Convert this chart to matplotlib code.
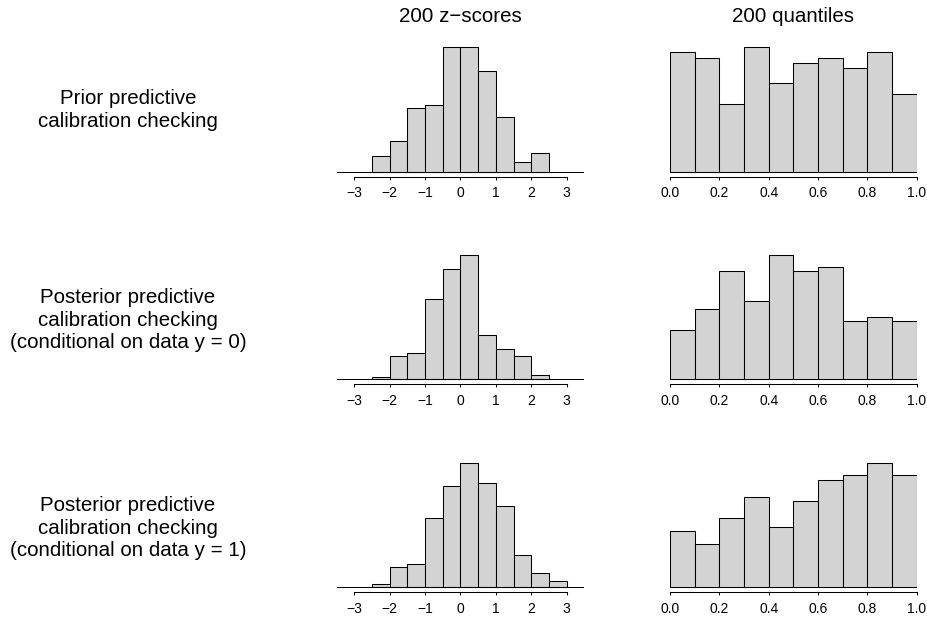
import matplotlib
matplotlib.use("Agg")
import matplotlib.pyplot as plt
import numpy as np

plt.rcParams['font.family'] = ['Liberation Sans', 'DejaVu Sans']

# column headers and row labels
col_titles = ["200 z\u2212scores", "200 quantiles"]
row_labels = [
    "Prior predictive\ncalibration checking",
    "Posterior predictive\ncalibration checking\n(conditional on data y = 0)",
    "Posterior predictive\ncalibration checking\n(conditional on data y = 1)",
]

# histogram counts (200 draws each)
z_start, z_width = -2.5, 0.5
q_start, q_width = 0.0, 0.1
prior_z = [5, 10, 21, 22, 41, 41, 33, 18, 3, 6]
prior_q = [23, 22, 13, 24, 17, 21, 22, 20, 23, 15]
post0_z = [1, 10, 11, 34, 47, 53, 19, 13, 10, 2]
post0_q = [12, 17, 26, 19, 30, 26, 27, 14, 15, 14]
post1_z = [1, 7, 8, 24, 35, 43, 36, 28, 11, 5, 2]
post1_q = [13, 10, 16, 21, 14, 20, 25, 26, 29, 26]

z_ticks = [-3, -2, -1, 0, 1, 2, 3]
q_ticks = [0.0, 0.2, 0.4, 0.6, 0.8, 1.0]
q_ticklabels = ["0.0", "0.2", "0.4", "0.6", "0.8", "1.0"]

rows = [(prior_z, prior_q), (post0_z, post0_q), (post1_z, post1_q)]

W, H = 928, 619
fig = plt.figure(figsize=(W / 100, H / 100), dpi=100)


def px_axes(left, right, top, bottom):
    return fig.add_axes([left / W, 1 - bottom / H, (right - left) / W, (bottom - top) / H])


def draw_hist(ax, counts, start, width):
    counts = np.asarray(counts)
    lefts = start + width * np.arange(len(counts))
    ax.bar(lefts, counts, width=width, align='edge', color='#D3D3D3',
           edgecolor='black', linewidth=0.75)
    m = counts.max()
    ax.set_ylim(-0.04 * m, 1.04 * m)
    for s in ['left', 'right', 'top']:
        ax.spines[s].set_visible(False)
    ax.spines['bottom'].set_linewidth(0.75)
    ax.set_yticks([])
    ax.tick_params(axis='x', length=2.2, width=0.75, pad=4.8, labelsize=10)
    ax.patch.set_visible(False)


plot_h = 124.4
for r, (zc, qc) in enumerate(rows):
    top = 47.2 + r * 207.7
    base = top + plot_h
    pad = 0.04 * plot_h

    ax = px_axes(336.6, 584.4, top - pad, base + pad)
    draw_hist(ax, zc, z_start, z_width)
    ax.set_xlim(-3.5, 3.5)
    ax.axhline(0, color='black', linewidth=0.75)
    ax.set_xticks(z_ticks)
    ax.spines['bottom'].set_bounds(-3, 3)

    ax2 = px_axes(670, 916.7, top - pad, base + pad)
    draw_hist(ax2, qc, q_start, q_width)
    ax2.set_xlim(0, 1)
    ax2.set_xticks(q_ticks)
    ax2.set_xticklabels(q_ticklabels)
    ax2.spines['bottom'].set_bounds(0, 1)

# column titles
fig.text(460.5 / W, 1 - 17 / H, col_titles[0], ha='center', va='center', fontsize=14.8)
fig.text(793.3 / W, 1 - 17 / H, col_titles[1], ha='center', va='center', fontsize=14.8)

# row labels
row_y = [110, 320, 528]
for lab, y in zip(row_labels, row_y):
    fig.text(128 / W, 1 - y / H, lab, ha='center', va='center', fontsize=14.8,
             linespacing=1.26)

fig.savefig("out.png", dpi=100)
